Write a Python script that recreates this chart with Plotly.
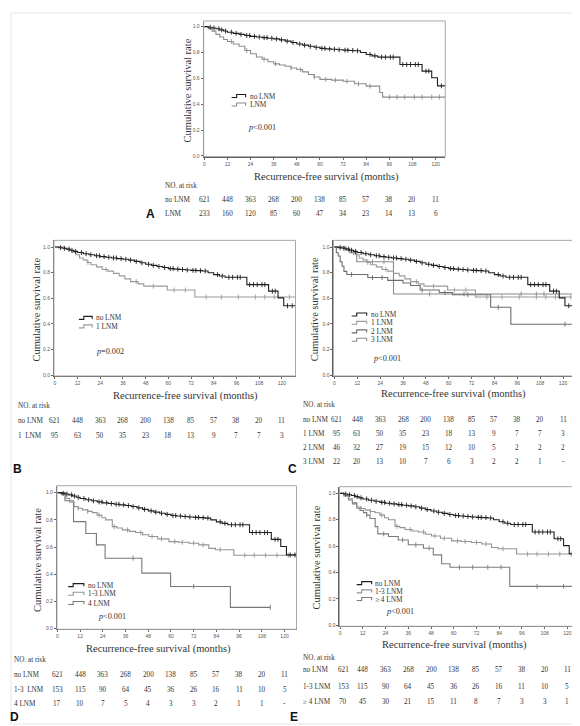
import numpy as np
import plotly.graph_objects as go

W, H = 580, 726

months = [0, 12, 24, 36, 48, 60, 72, 84, 96, 108, 120]
y_ticks = [0.0, 0.2, 0.4, 0.6, 0.8, 1.0]

# KM step points (months, cumulative survival)
no_lnm_t = [0, 2, 4, 6, 8, 10, 12, 15, 18, 21, 24, 27, 30, 33, 36, 39, 42, 45, 48, 51, 54, 57, 60,
            63, 66, 69, 72, 75, 78, 81, 84, 87, 90, 101.5, 113, 118, 121, 127]
no_lnm_s = [1.0, 0.995, 0.99, 0.984, 0.975, 0.966, 0.957, 0.948, 0.94, 0.932, 0.925, 0.92, 0.915,
            0.91, 0.905, 0.898, 0.888, 0.877, 0.866, 0.857, 0.848, 0.84, 0.832, 0.828, 0.825,
            0.821, 0.818, 0.816, 0.813, 0.8, 0.785, 0.774, 0.764, 0.707, 0.656, 0.604, 0.542, 0.542]
no_lnm_cens = [3, 5, 7.5, 9, 11, 14, 16.5, 19, 22, 23.5, 26, 28.5, 31, 32.5, 35, 37.5, 40, 43,
               46, 49.5, 52, 55, 58, 61, 62.5, 65, 67.5, 70, 73, 74.5, 77, 79.5, 86, 88.5, 92,
               94, 96.5, 98, 103, 105, 107, 109.5, 111, 115, 116.5, 123, 125.5]

lnm_t = [0, 2, 4, 6, 8, 10, 12, 15, 18, 21, 24, 27, 30, 33, 36, 39, 42, 45, 48, 51, 54, 57, 60,
         66, 72, 78, 84, 91, 92.5, 126]
lnm_s = [1.0, 0.985, 0.965, 0.94, 0.92, 0.9, 0.885, 0.866, 0.848, 0.815, 0.79, 0.765, 0.748,
         0.728, 0.712, 0.703, 0.694, 0.68, 0.668, 0.65, 0.63, 0.61, 0.592, 0.586, 0.578, 0.558,
         0.54, 0.49, 0.455, 0.455]
lnm_cens = [14, 22, 31, 37, 45, 50, 57, 63, 68, 74, 80, 86, 96, 100, 104, 109, 113, 118, 122]

one_t = [0, 5, 7, 9, 11, 13, 15, 17, 19, 22, 25, 28, 31, 34, 37, 40, 44, 47, 59.4, 74, 127]
one_s = [1.0, 0.99, 0.975, 0.96, 0.94, 0.915, 0.9, 0.88, 0.862, 0.845, 0.825, 0.812, 0.795,
         0.775, 0.752, 0.73, 0.713, 0.695, 0.665, 0.61, 0.61]
one_cens = [17.5, 27, 43, 52, 63, 69, 80, 88, 97, 106, 111, 116, 124]

two_t = [0, 1, 2, 3, 4, 5, 6.5, 17.5, 28, 36, 40, 45, 55, 62, 82, 92.6, 126]
two_s = [1.0, 0.955, 0.93, 0.885, 0.85, 0.81, 0.786, 0.762, 0.74, 0.72, 0.7, 0.665, 0.645,
         0.628, 0.53, 0.398, 0.398]
two_cens = [9, 20, 25, 46, 58, 70, 86, 121]

three_t = [0, 6, 8, 11.7, 31, 126]
three_s = [1.0, 0.975, 0.955, 0.885, 0.634, 0.634]
three_cens = [10, 20, 26, 50, 68, 98, 106, 110]

one3_t = [0, 2, 4.4, 6.5, 8.8, 11, 13.2, 16, 18.4, 21, 23.5, 25.5, 29, 31.5, 34.3, 38, 41.3,
          45, 48.3, 53, 58.9, 64, 69.4, 74.7, 80, 83.5, 93.2, 127]
one3_s = [1.0, 0.985, 0.958, 0.93, 0.897, 0.885, 0.873, 0.862, 0.853, 0.835, 0.815, 0.8, 0.75,
          0.74, 0.726, 0.715, 0.707, 0.69, 0.677, 0.66, 0.64, 0.635, 0.628, 0.616, 0.59, 0.58,
          0.54, 0.54]
one3_cens = [11, 16, 22, 30, 37, 44, 50, 55, 62, 66, 72, 77, 86, 99, 104, 110, 116, 122]

four_t = [0, 4, 8.5, 15, 20.6, 25.2, 44.6, 59.8, 91.4, 112.5]
four_s = [1.0, 0.94, 0.787, 0.7, 0.616, 0.518, 0.408, 0.31, 0.156, 0.156]
four_cens = [40, 72, 112.5]

ge4_t = [0, 2, 4.4, 6.5, 8.8, 10.5, 12.3, 14, 15.8, 18.5, 19.9, 25.5, 30.7, 36, 44, 49.2, 53.6,
         58, 89.6, 124.5]
ge4_s = [1.0, 0.98, 0.95, 0.92, 0.887, 0.87, 0.854, 0.835, 0.81, 0.748, 0.693, 0.673, 0.647,
         0.61, 0.584, 0.534, 0.466, 0.44, 0.295, 0.295]
ge4_cens = [14, 23, 33, 40, 47, 63, 70, 78, 85, 104, 118]

# numbers at risk
risk_no_lnm = ["621", "448", "363", "268", "200", "138", "85", "57", "38", "20", "11"]
risk_lnm = ["233", "160", "120", "85", "60", "47", "34", "23", "14", "13", "6"]
risk_one = ["95", "63", "50", "35", "23", "18", "13", "9", "7", "7", "3"]
risk_two = ["46", "32", "27", "19", "15", "12", "10", "5", "2", "2", "2"]
risk_three = ["22", "20", "13", "10", "7", "6", "3", "2", "2", "1", "-"]
risk_one3 = ["153", "115", "90", "64", "45", "36", "26", "16", "11", "10", "5"]
risk_four = ["17", "10", "7", "5", "4", "3", "3", "2", "1", "1", "-"]
risk_ge4 = ["70", "45", "30", "21", "15", "11", "8", "7", "3", "3", "1"]

BLACK = "#1e1e1e"
SERIF = "Liberation Serif"
TXT = "#333"

curves = {
    "no LNM": (no_lnm_t, no_lnm_s, no_lnm_cens, BLACK),
    "LNM": (lnm_t, lnm_s, lnm_cens, "#8c8c8c"),
    "1 LNM": (one_t, one_s, one_cens, "#9a9a9a"),
    "2 LNM": (two_t, two_s, two_cens, "#6c6c6c"),
    "3 LNM": (three_t, three_s, three_cens, "#8a8a8a"),
    "1-3 LNM": (one3_t, one3_s, one3_cens, "#949494"),
    "4 LNM": (four_t, four_s, four_cens, "#787878"),
    "≥4 LNM": (ge4_t, ge4_s, ge4_cens, "#7c7c7c"),
}

# panel layout in pixels: frame box, where 0 / 120 months and 0.0 / 1.0 fall
panels = [
    dict(tag="A", box=(195, 13, 437, 149), x0=195.7, x120=427.3, y1=18.7, y0=148.3,
         series=["no LNM", "LNM"], ytitle=(178.5, 82.5), xtitle=(317.7, 169.3),
         leg=dict(sx=(223, 237), tx=239.5, ys=[88.3, 96.7], p="<i>p</i>&lt;0.001", px=(237.3, 120)),
         tab=dict(lx=154.5, ny=178.3, ys=[192.7, 206.2],
                  rows=[("no LNM", risk_no_lnm), ("LNM", risk_lnm)]),
         letter=(141.7, 206.7)),
    dict(tag="B", box=(45, 233, 287, 369), x0=46, x120=273.3, y1=239.7, y0=368.3,
         series=["no LNM", "1 LNM"], ytitle=(27.5, 302), xtitle=(176.7, 389.3),
         leg=dict(sx=(70, 83.3), tx=85, ys=[310.7, 319.3], p="<i>p</i>=0.002", px=(85, 344)),
         tab=dict(lx=6.7, ny=399.3, ys=[414.3, 429],
                  rows=[("no LNM", risk_no_lnm), ("1  LNM", risk_one)]),
         letter=(8.3, 462.7)),
    dict(tag="C", box=(325, 233, 567, 369), x0=326, x120=555, y1=239.7, y0=368.3,
         series=["no LNM", "1 LNM", "2 LNM", "3 LNM"], ytitle=(305.5, 302), xtitle=(445, 387.3),
         leg=dict(sx=(343.3, 358.3), tx=360.7, ys=[307.3, 315.7, 324.3, 332.7],
                  p="<i>p</i>&lt;0.001", px=(362.7, 351.7)),
         tab=dict(lx=292.5, ny=398.3, ys=[413.3, 427.3, 441.7, 455.5], shift0=2.5,
                  rows=[("no LNM", risk_no_lnm), ("1 LNM", risk_one), ("2 LNM", risk_two),
                        ("3 LNM", risk_three)]),
         letter=(284, 462.7)),
    dict(tag="D", box=(48, 479, 288, 623), x0=48.5, x120=276, y1=486, y0=622.3,
         series=["no LNM", "1-3 LNM", "4 LNM"], ytitle=(28.5, 553), xtitle=(150, 642.7),
         leg=dict(sx=(59.3, 75), tx=77.3, ys=[578.7, 587.3, 596.7], p="<i>p</i>&lt;0.001",
                  px=(87.3, 610)),
         tab=dict(lx=3, ny=653.3, ys=[669.3, 683.5, 698.3],
                  rows=[("no LNM", risk_no_lnm), ("1-3  LNM", risk_one3), ("4 LNM", risk_four)]),
         letter=(6, 711)),
    dict(tag="E", box=(331, 480, 567, 620), x0=331.7, x120=559.3, y1=486.7, y0=619,
         series=["no LNM", "1-3 LNM", "≥4 LNM"], ytitle=(308.5, 551), xtitle=(446.7, 638.3),
         leg=dict(sx=(348.3, 363.3), tx=365, ys=[576.7, 585, 592.7], p="<i>p</i>&lt;0.001",
                  px=(376, 605)),
         tab=dict(lx=292.7, ny=651.7, ys=[664.3, 680.7, 695.7], shift0=3,
                  rows=[("no LNM", risk_no_lnm), ("1-3 LNM", risk_one3), ("≥ 4 LNM", risk_ge4)]),
         letter=(285, 711)),
]


def pp(x, y):
    return x / W, 1 - y / H


def surv_at(t, s, tc):
    idx = np.searchsorted(np.asarray(t), np.asarray(tc), side="right") - 1
    return np.asarray(s)[idx]


fig = go.Figure()
annotations = []
shapes = []
layout_axes = {}

# light card behind the panels
shapes.append(dict(type="rect", xref="paper", yref="paper", x0=2 / W, x1=570 / W,
                   y0=1 - 718 / H, y1=1 - 5 / H, line=dict(color="#e6e6e6", width=1),
                   layer="below"))


def text(x, y, s, size=8, xanchor="left", font=SERIF, color=TXT, **kw):
    px, py = pp(x, y)
    annotations.append(dict(x=px, y=py, xref="paper", yref="paper", text=s, showarrow=False,
                            xanchor=xanchor, yanchor="middle",
                            font=dict(family=font, size=size, color=color), **kw))


for i, p in enumerate(panels, start=1):
    l, t, r, b = p["box"]
    k = (p["x120"] - p["x0"]) / 120
    xr = [(l - p["x0"]) / k, (r - p["x0"]) / k]
    yr = [(p["y0"] - b) / (p["y0"] - p["y1"]), (p["y0"] - t) / (p["y0"] - p["y1"])]
    sfx = "" if i == 1 else str(i)
    ax = dict(showgrid=False, zeroline=False, showline=True, linecolor="#5a5a5a", linewidth=1,
              ticks="outside", ticklen=2, tickwidth=0.8, tickcolor="#666",
              tickfont=dict(family="Liberation Sans", size=5, color="#555"))
    layout_axes["xaxis" + sfx] = dict(ax, domain=[l / W, r / W], range=xr, anchor="y" + sfx,
                                      tickvals=months)
    layout_axes["yaxis" + sfx] = dict(ax, domain=[1 - b / H, 1 - t / H], range=yr,
                                      anchor="x" + sfx, tickvals=y_ticks, tickformat=".1f")
    # grey frame round the plot area
    shapes.append(dict(type="rect", xref="x" + sfx + " domain", yref="y" + sfx + " domain",
                       x0=0, x1=1, y0=0, y1=1, line=dict(color="#a8a8a8", width=1)))

    # draw lighter groups first so no LNM stays on top
    for name in p["series"][::-1]:
        ct, cs, cc, col = curves[name]
        fig.add_trace(go.Scatter(x=ct, y=cs, mode="lines", line=dict(color=col, width=1.1, shape="hv"),
                                 xaxis="x" + sfx, yaxis="y" + sfx, showlegend=False, name=name))
        fig.add_trace(go.Scatter(x=cc, y=surv_at(ct, cs, cc), mode="markers",
                                 marker=dict(symbol="line-ns", size=3.5, color=col,
                                             line=dict(color=col, width=0.9)),
                                 xaxis="x" + sfx, yaxis="y" + sfx, showlegend=False, name=name))

    # legend with step glyphs
    lg = p["leg"]
    for name, yy in zip(p["series"], lg["ys"]):
        col = curves[name][3]
        sx0, sx1 = lg["sx"]
        pts = [(sx0, yy + 1.5), (sx0 + 5, yy + 1.5), (sx0 + 5, yy - 1.5), (sx1, yy - 1.5),
               (sx1, yy + 1.2)]
        path = "M " + " L ".join("%.5f,%.5f" % pp(a, c) for a, c in pts)
        shapes.append(dict(type="path", xref="paper", yref="paper", path=path,
                           line=dict(color=col, width=1.1)))
        text(lg["tx"], yy, name.replace("≥4", "≥ 4"), size=7.3)
    text(lg["px"][0], lg["px"][1], lg["p"], size=8.2)

    # axis titles
    text(p["ytitle"][0], p["ytitle"][1], "Cumulative survival rate", size=10.5,
         xanchor="center", textangle=-90)
    text(p["xtitle"][0], p["xtitle"][1], "Recurrence-free survival (months)", size=10.5,
         xanchor="center")

    # numbers at risk
    tb = p["tab"]
    text(tb["lx"], tb["ny"], "NO. at risk", size=7.2)
    for (lab, vals), yy in zip(tb["rows"], tb["ys"]):
        text(tb["lx"], yy, lab, size=7.2)
        for m, v in zip(months, vals):
            xs = tb.get("shift0", 0) if m == 0 else 0
            annotations.append(dict(x=m, y=1 - yy / H, xref="x" + sfx, yref="paper", text=v,
                                    showarrow=False, xanchor="center", yanchor="middle",
                                    xshift=xs,
                                    font=dict(family=SERIF, size=7.2, color=TXT)))

    text(p["letter"][0], p["letter"][1], "<b>%s</b>" % p["tag"], size=12,
         font="Liberation Sans", color="#111", xanchor="center")

fig.update_layout(width=W, height=H, margin=dict(l=0, r=0, t=0, b=0),
                  paper_bgcolor="white", plot_bgcolor="white", showlegend=False,
                  annotations=annotations, shapes=shapes, **layout_axes)

fig.write_html("out.html")
